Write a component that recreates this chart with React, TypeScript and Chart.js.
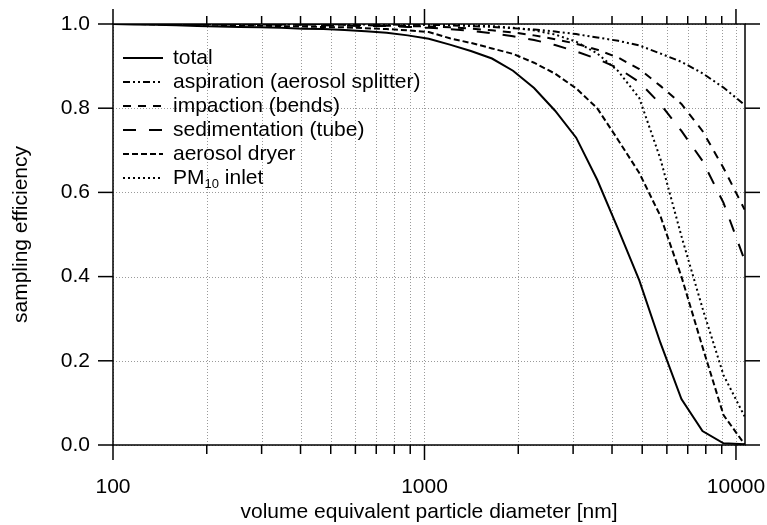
import React, { useEffect, useRef } from 'react';
import { Chart, registerables } from 'chart.js';

Chart.register(...registerables);

// particle diameters [nm] (log-spaced samples)
const diameters = [
  100, 116.8, 136.5, 159.5, 186.4, 217.8, 254.4, 297.3, 347.3, 405.8,
  474.1, 553.9, 647.2, 756.2, 883.5, 1032, 1206, 1409, 1647, 1924,
  2248, 2626, 3069, 3585, 4189, 4894, 5719, 6682, 7807, 9121, 10657,
];

const total = [
  1.000, 0.999, 0.998, 0.997, 0.995, 0.994, 0.993, 0.992, 0.991, 0.989,
  0.988, 0.986, 0.983, 0.979, 0.973, 0.965, 0.951, 0.936, 0.918, 0.889,
  0.848, 0.794, 0.730, 0.630, 0.512, 0.391, 0.243, 0.109, 0.033, 0.004, 0.002,
];
const aspiration = [
  1.000, 1.000, 1.000, 1.000, 1.000, 1.000, 1.000, 1.000, 1.000, 1.000,
  1.000, 0.999, 0.999, 0.999, 0.998, 0.998, 0.997, 0.995, 0.993, 0.990,
  0.987, 0.982, 0.976, 0.968, 0.960, 0.949, 0.930, 0.910, 0.883, 0.849, 0.808,
];
const impaction = [
  1.000, 1.000, 1.000, 1.000, 1.000, 1.000, 1.000, 0.999, 0.999, 0.999,
  0.998, 0.998, 0.997, 0.996, 0.995, 0.994, 0.992, 0.989, 0.985, 0.980,
  0.973, 0.964, 0.953, 0.939, 0.920, 0.893, 0.853, 0.810, 0.746, 0.658, 0.559,
];
const sedimentation = [
  1.000, 1.000, 1.000, 1.000, 1.000, 0.999, 0.999, 0.999, 0.998, 0.998,
  0.997, 0.996, 0.995, 0.995, 0.993, 0.991, 0.988, 0.984, 0.978, 0.971,
  0.962, 0.950, 0.935, 0.917, 0.895, 0.862, 0.810, 0.746, 0.675, 0.575, 0.439,
];
const dryer = [
  1.000, 1.000, 0.999, 0.999, 0.998, 0.998, 0.997, 0.996, 0.995, 0.994,
  0.993, 0.992, 0.990, 0.988, 0.985, 0.981, 0.966, 0.955, 0.942, 0.929,
  0.908, 0.882, 0.847, 0.800, 0.724, 0.646, 0.544, 0.400, 0.233, 0.071, 0.002,
];
const pm10 = [
  1.000, 1.000, 1.000, 1.000, 1.000, 1.000, 1.000, 1.000, 1.000, 1.000,
  1.000, 1.000, 1.000, 1.000, 0.999, 0.999, 0.998, 0.997, 0.995, 0.991,
  0.985, 0.975, 0.958, 0.930, 0.888, 0.824, 0.680, 0.496, 0.325, 0.166, 0.068,
];

const seriesLabels = [
  'total',
  'aspiration (aerosol splitter)',
  'impaction (bends)',
  'sedimentation (tube)',
  'aerosol dryer',
  'PM10 inlet',
];

const xTickValues = [
  100, 200, 300, 400, 500, 600, 700, 800, 900,
  1000, 2000, 3000, 4000, 5000, 6000, 7000, 8000, 9000, 10000,
];
const xMajorValues = [100, 1000, 10000];
const yTickValues = [0, 0.2, 0.4, 0.6, 0.8, 1.0];

const FONT = "'Liberation Sans', Arial, Helvetica, sans-serif";
const FS = 21;

export default function App() {
  const ref = useRef<HTMLCanvasElement | null>(null);

  useEffect(() => {
    const canvas = ref.current;
    if (!canvas) return;

    const seriesValues = [total, aspiration, impaction, sedimentation, dryer, pm10];
    const dashes = [[], [7, 3, 2, 3, 2, 3], [8, 7], [13, 13], [6, 3], [2, 3]];

    const line = (ctx: CanvasRenderingContext2D, x1: number, y1: number, x2: number, y2: number) => {
      ctx.beginPath();
      ctx.moveTo(x1, y1);
      ctx.lineTo(x2, y2);
      ctx.stroke();
    };

    const decor = {
      id: 'decor',
      beforeDatasetsDraw(chart: any) {
        const { ctx, chartArea: a, scales } = chart;
        const xs = scales.x;
        const ys = scales.y;
        ctx.save();
        ctx.strokeStyle = '#9a9a9a';
        ctx.lineWidth = 1;
        ctx.setLineDash([1, 2]);
        for (const v of xTickValues) {
          const px = Math.round(xs.getPixelForValue(v)) + 0.5;
          line(ctx, px, a.top, px, a.bottom);
        }
        for (const v of yTickValues) {
          const py = Math.round(ys.getPixelForValue(v)) + 0.5;
          line(ctx, a.left, py, a.right, py);
        }
        ctx.restore();
      },
      afterDatasetsDraw(chart: any) {
        const { ctx, chartArea: a, scales } = chart;
        const xs = scales.x;
        const ys = scales.y;
        ctx.save();
        ctx.strokeStyle = '#000';
        ctx.lineWidth = 1.5;
        ctx.setLineDash([]);
        ctx.strokeRect(a.left, a.top, a.right - a.left, a.bottom - a.top);
        for (const v of yTickValues) {
          const py = ys.getPixelForValue(v);
          line(ctx, a.left - 15, py, a.left, py);
          line(ctx, a.right, py, a.right + 15, py);
        }
        for (const v of xTickValues) {
          const px = xs.getPixelForValue(v);
          const major = xMajorValues.includes(v);
          line(ctx, px, a.bottom, px, a.bottom + (major ? 15 : 9));
          line(ctx, px, a.top, px, a.top - (major ? 15 : 8));
        }
        // legend
        const lx = a.left + 10;
        let ly = 58;
        ctx.font = `${FS}px ${FONT}`;
        ctx.textBaseline = 'middle';
        ctx.fillStyle = '#000';
        chart.data.datasets.forEach((ds: any) => {
          ctx.lineWidth = 2;
          ctx.setLineDash(ds.borderDash || []);
          line(ctx, lx, ly, lx + 40, ly);
          ctx.setLineDash([]);
          const tx = lx + 50;
          const label: string = ds.label;
          if (label.startsWith('PM10')) {
            ctx.font = `${FS}px ${FONT}`;
            ctx.fillText('PM', tx, ly);
            const w1 = ctx.measureText('PM').width;
            ctx.font = `${Math.round(FS * 0.62)}px ${FONT}`;
            ctx.fillText('10', tx + w1, ly + 6);
            const w2 = ctx.measureText('10').width;
            ctx.font = `${FS}px ${FONT}`;
            ctx.fillText(label.slice(4), tx + w1 + w2, ly);
          } else {
            ctx.fillText(label, tx, ly);
          }
          ly += 24;
        });
        ctx.restore();
      },
    };

    const chart = new Chart(canvas, {
      type: 'line',
      data: {
        datasets: seriesValues.map((vals, i) => ({
          label: seriesLabels[i],
          data: diameters.map((d, k) => ({ x: d, y: vals[k] })),
          borderColor: '#000',
          borderWidth: 2,
          borderDash: dashes[i],
          pointRadius: 0,
          tension: 0,
          fill: false,
        })),
      },
      options: {
        responsive: false,
        animation: false,
        layout: { padding: { left: 0, top: 24, right: 22, bottom: 0 } },
        plugins: { legend: { display: false }, tooltip: { enabled: false } },
        scales: {
          x: {
            type: 'logarithmic',
            min: 100,
            max: 10690,
            afterBuildTicks: (scale: any) => {
              scale.ticks = xTickValues.map((v) => ({ value: v, major: xMajorValues.includes(v) }));
            },
            afterFit: (scale: any) => {
              scale.height = 80;
              scale.paddingLeft = 0;
              scale.paddingRight = 0;
            },
            grid: { display: false, drawTicks: false },
            border: { display: false },
            ticks: {
              autoSkip: false,
              maxRotation: 0,
              padding: 30,
              color: '#000',
              font: { family: FONT, size: FS },
              callback: (v: any) => (xMajorValues.includes(Number(v)) ? String(v) : ''),
            },
            title: {
              display: true,
              text: 'volume equivalent particle diameter [nm]',
              color: '#000',
              font: { family: FONT, size: FS },
              padding: 0,
            },
          },
          y: {
            type: 'linear',
            min: 0,
            max: 1,
            afterBuildTicks: (scale: any) => {
              scale.ticks = yTickValues.map((v) => ({ value: v }));
            },
            afterFit: (scale: any) => {
              scale.width = 113;
              scale.paddingTop = 0;
              scale.paddingBottom = 0;
            },
            grid: { display: false, drawTicks: false },
            border: { display: false },
            ticks: {
              padding: 23,
              color: '#000',
              font: { family: FONT, size: FS },
              callback: (v: any) => Number(v).toFixed(1),
            },
            title: {
              display: true,
              text: 'sampling efficiency',
              color: '#000',
              font: { family: FONT, size: FS },
              padding: { top: 9, bottom: 0 },
            },
          },
        },
      },
      plugins: [decor],
    });

    return () => chart.destroy();
  }, []);

  return (
    <canvas
      ref={ref}
      width={767}
      height={525}
      style={{ position: 'absolute', left: 0, top: 0, width: 767, height: 525 }}
    />
  );
}
